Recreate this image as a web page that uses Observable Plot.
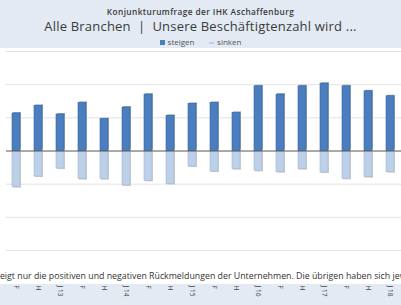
<!DOCTYPE html>
<html><head><meta charset="utf-8">
<script src="https://cdn.jsdelivr.net/npm/d3@7"></script>
<script src="https://cdn.jsdelivr.net/npm/@observablehq/plot@0.6"></script>
<style>
body{margin:0;width:401px;height:305px;overflow:hidden;position:relative;background:#fff;font-family:"Open Sans",sans-serif;}
#head{position:absolute;left:0;top:0;width:401px;height:48px;background:#e3eaf3;text-align:center;color:#3a3a3a}
#sup{position:absolute;top:7px;width:100%;font-size:8.3px;line-height:9px;font-weight:600;letter-spacing:0.4px}
#title{position:absolute;top:20px;width:100%;font-size:13px;line-height:13px;letter-spacing:0.2px}
#legend{position:absolute;top:37px;width:100%;font-size:8px;line-height:10px;color:#555}
.sw{display:inline-block;width:5px;height:5px;margin-right:3px;vertical-align:middle}
#band{position:absolute;left:0;top:284px;width:401px;height:21px;background:#e3eaf3}
#chart{position:absolute;left:0;top:48px}
#cap{position:absolute;left:0;top:271px;width:401px;overflow:hidden;white-space:nowrap;font-size:8.8px;line-height:11px;color:#333}
</style></head><body>
<div id="head">
  <div id="sup">Konjunkturumfrage der IHK Aschaffenburg</div>
  <div id="title">Alle Branchen &nbsp;|&nbsp; Unsere Beschäftigtenzahl wird ...</div>
  <div id="legend"><span class="sw" style="background:#4a7ebf"></span>steigen &nbsp;&nbsp;&nbsp;&nbsp;&nbsp;&nbsp;<span class="sw" style="background:#bcd0ea;height:2px"></span>sinken</div>
</div>
<div id="band"></div>
<div id="chart"></div>
<div id="cap"><span id="capin"><span id="pre">Die Grafik z</span>eigt nur die positiven und negativen Rückmeldungen der Unternehmen. Die übrigen haben sich jeweils für „gleich bleibend“ entschieden.</span></div>
<script>
const periods = ["FS 12","H 12","JB 13","FS 13","H 13","JB 14","FS 14","H 14","JB 15","FS 15","H 15","JB 16","FS 16","H 16","JB 17","FS 17","H 17","JB 18"];
const tickLabels = ["F","H","J 13","F","H","J 14","F","H","J 15","F","H","J 16","F","H","J 17","F","H","J 18"];
const steigen = [11.3,13.6,11.0,14.5,9.6,13.1,17.0,10.6,14.2,14.5,11.5,19.5,17.0,19.5,20.3,19.5,18.0,16.5];
const sinken = [-10.9,-7.7,-5.3,-8.5,-8.5,-10.4,-9.0,-10.0,-4.7,-6.2,-5.5,-6.0,-6.4,-5.5,-6.5,-8.4,-7.9,-6.4];
const gridValues = [-30,-20,-10,10,20,30];

const up = periods.map((p,i)=>({p, v: steigen[i]}));
const down = periods.map((p,i)=>({p, v: sinken[i]}));
const labelOf = new Map(periods.map((p,i)=>[p, tickLabels[i]]));

const chart = Plot.plot({
  width: 401, height: 257,
  marginLeft: 6, marginRight: 0, marginTop: 3, marginBottom: 55,
  style: {background: "transparent", fontFamily: "Open Sans, sans-serif"},
  x: {domain: periods, range: [3, 403.2], padding: 0.64, paddingOuter: 0.32},
  y: {domain: [-30, 30]},
  marks: [
    Plot.ruleY(gridValues, {stroke: "#e2e2e2", strokeWidth: 1}),
    Plot.barY(down, {x: "p", y: "v", dx: 1, dy: 1, fill: "#cfcfcf"}),
    Plot.barY(up, {x: "p", y: "v", dx: 1, dy: -1, fill: "#9aa7b8"}),
    Plot.barY(down, {x: "p", y: "v", fill: "#bdd0e9", stroke: "#a3b6d0", strokeWidth: 0.6}),
    Plot.barY(up, {x: "p", y: "v", fill: "#4a7ebf", stroke: "#36659f", strokeWidth: 0.6}),
    Plot.ruleY([0], {stroke: "#555", strokeWidth: 1}),
    Plot.axisX({tickSize: 0, tickPadding: 35, tickRotate: 90, fontSize: 6.5, fill: "#444", tickFormat: d => labelOf.get(d), label: null}),
    Plot.axisY({ticks: [], label: null})
  ]
});
document.getElementById("chart").appendChild(chart);
const pre = document.getElementById("pre");
document.getElementById("capin").style.marginLeft = (-pre.offsetWidth) + "px";
</script>
</body></html>
